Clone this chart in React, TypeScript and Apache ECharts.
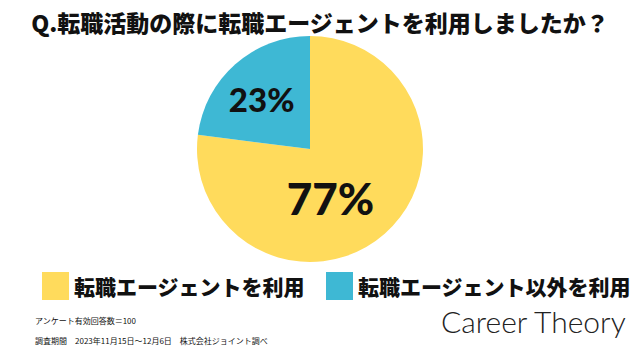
import React, { useEffect, useRef } from "react";
import * as echarts from "echarts";

const categories = ["転職エージェントを利用", "転職エージェント以外を利用"];
const values = [77, 23];
const colors = ["#FFDB5C", "#3EB8D4"];
const titleText = "Q.転職活動の際に転職エージェントを利用しましたか？";
const note1 = "アンケート有効回答数＝100";
const note2 = "調査期間　2023年11月15日～12月6日　株式会社ジョイント調べ";
const brand = "Career Theory";

const JP = '"Noto Sans CJK JP", "Noto Sans", sans-serif';

export default function App() {
  const ref = useRef<HTMLDivElement>(null);
  useEffect(() => {
    if (!ref.current) return;
    const chart = echarts.init(ref.current, null, { renderer: "svg" });
    const labelOffsets = [[-19, 4], [-9, -5]];
    const labelSizes = [44, 33];
    chart.setOption({
      animation: false,
      backgroundColor: "#ffffff",
      title: {
        text: titleText,
        left: "center",
        top: 5,
        textStyle: { fontFamily: JP, fontSize: 23, fontWeight: 900, color: "#111" },
      },
      legend: {
        orient: "horizontal",
        left: 42,
        top: 272,
        width: 600,
        padding: 0,
        itemWidth: 27,
        itemHeight: 28,
        itemGap: 21,
        icon: "rect",
        textStyle: { fontFamily: JP, fontSize: 21, fontWeight: 900, color: "#111" },
        data: categories,
      },
      graphic: [
        { type: "text", left: 35, top: 316, style: { text: note1, font: `8px ${JP}`, fill: "#111" } },
        { type: "text", left: 35, top: 336, style: { text: note2, font: `8px ${JP}`, fill: "#111" } },
        { type: "text", left: 441, top: 306, style: { text: brand, font: `300 30px Lato, "Open Sans", sans-serif`, fill: "#222" } },
      ],
      series: [
        {
          type: "pie",
          center: [310, 149],
          radius: 113,
          startAngle: 90,
          clockwise: true,
          silent: true,
          label: {
            show: true,
            position: "inner",
            formatter: "{d}%",
            fontFamily: "Lato, 'Noto Sans', sans-serif",
            fontWeight: 900,
            color: "#111",
          },
          labelLine: { show: false },
          itemStyle: { borderWidth: 0 },
          data: categories.map((c, i) => ({
            name: c,
            value: values[i],
            itemStyle: { color: colors[i] },
            label: { offset: labelOffsets[i], fontSize: labelSizes[i] },
          })),
        },
      ],
    });
    return () => chart.dispose();
  }, []);
  return <div ref={ref} style={{ width: 640, height: 360, position: "absolute", left: 0, top: 0 }} />;
}
